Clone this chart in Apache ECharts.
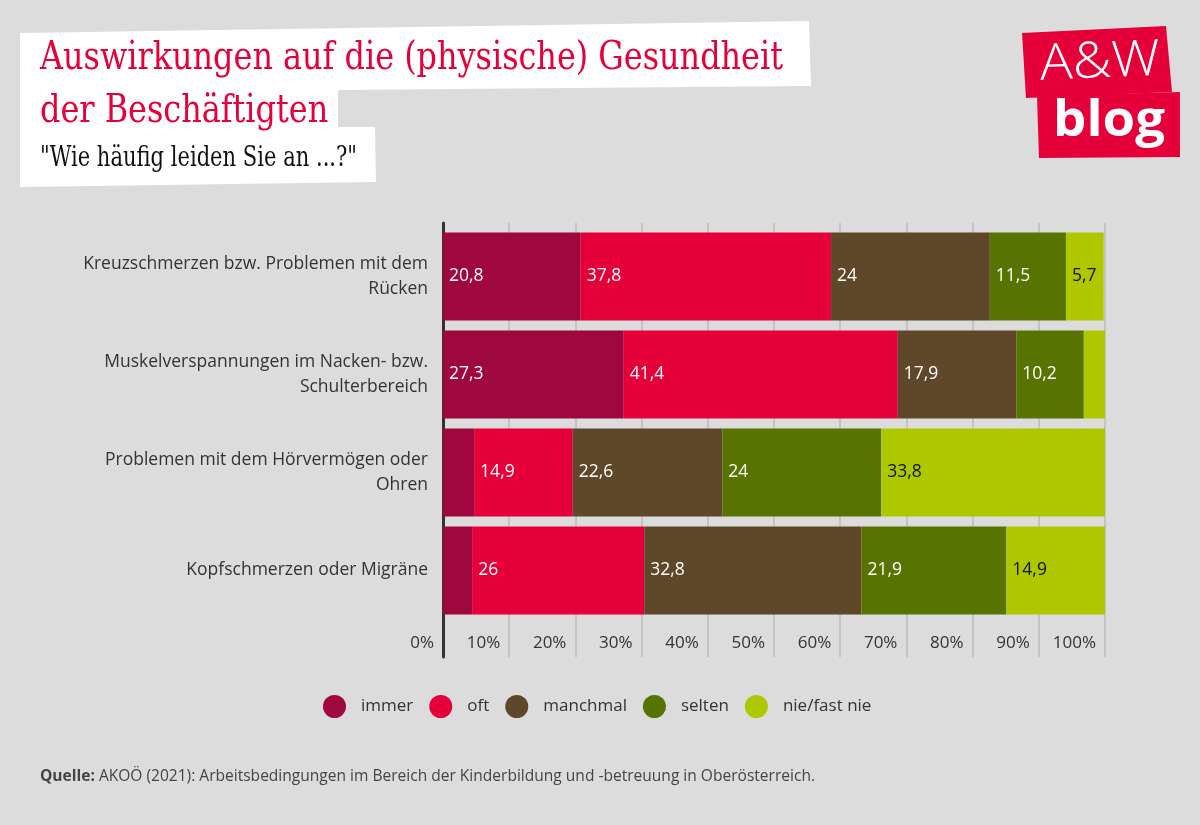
<!DOCTYPE html>
<html><head><meta charset="utf-8">
<script src="https://cdn.jsdelivr.net/npm/echarts@6/dist/echarts.min.js"></script>
<style>html,body{margin:0;padding:0;background:#dcdcdc}#c{width:1200px;height:825px}</style>
</head><body><div id="c"></div><script>
// ---- data ----
const categories = [
  'Kreuzschmerzen bzw. Problemen mit dem\nRücken',
  'Muskelverspannungen im Nacken- bzw.\nSchulterbereich',
  'Problemen mit dem Hörvermögen oder\nOhren',
  'Kopfschmerzen oder Migräne'
];
const seriesNames = ['immer', 'oft', 'manchmal', 'selten', 'nie/fast nie'];
const immer = [20.8, 27.3, 4.7, 4.4];
const oft = [37.8, 41.4, 14.9, 26];
const manchmal = [24, 17.9, 22.6, 32.8];
const selten = [11.5, 10.2, 24, 21.9];
const nieFastNie = [5.7, 3.2, 33.8, 14.9];
const xTickMax = 100, xTickStep = 10;

const titleLine1 = 'Auswirkungen auf die (physische) Gesundheit';
const titleLine2 = 'der Beschäftigten';
const subtitle = '"Wie häufig leiden Sie an ...?"';
const sourceBold = 'Quelle: ';
const sourceRest = 'AKOÖ (2021): Arbeitsbedingungen im Bereich der Kinderbildung und -betreuung in Oberösterreich.';

// ---- styles ----
const colors = ['#9f073f', '#e5003a', '#5f4729', '#587400', '#aec800'];
const labelColors = ['#fff', '#fff', '#fff', '#fff', '#111'];
const RED = '#e5003a';
const TITLE_FONT = '"DejaVu Serif Condensed", "DejaVu Serif", serif';
const SANS = '"Open Sans", "Noto Sans", sans-serif';

const mctx = document.createElement('canvas').getContext('2d');
function textW(font, t) { mctx.font = font; return mctx.measureText(t).width; }

const t1Font = '40px ' + TITLE_FONT;
const tScale = 743 / textW(t1Font, titleLine1);
const subFont = '27px ' + TITLE_FONT;
const subScale = 317 / textW(subFont, subtitle);
const srcW = textW('bold 16px ' + SANS, sourceBold) + textW('16px ' + SANS, sourceRest);
const srcScale = 775 / srcW;
const awScale = 120 / textW('300 50px ' + SANS, 'A&W');
const blogScale = 112 / textW('bold 50px ' + SANS, 'blog');

const valuesBySeries = [immer, oft, manchmal, selten, nieFastNie];

const chart = echarts.init(document.getElementById('c'), null, { renderer: 'canvas' });
chart.setOption({
  backgroundColor: '#dcdcdc',
  animation: false,
  color: colors,
  grid: [
    { left: 443, right: 95, top: 227.5, height: 392 },
    { left: 443, right: 95, top: 223, bottom: 168 }
  ],
  xAxis: [
    { gridIndex: 0, type: 'value', min: 0, max: xTickMax, show: false },
    { gridIndex: 1, type: 'value', min: 0, max: xTickMax, interval: xTickStep,
      axisLine: { show: false }, axisTick: { show: false },
      splitLine: { show: true, lineStyle: { color: '#c3c3c3', width: 2 } },
      axisLabel: { inside: true, align: 'right', padding: [0, 9, 0, 0], margin: 5,
        formatter: '{value}%', fontSize: 17, color: '#333', fontFamily: SANS } }
  ],
  yAxis: [
    { gridIndex: 0, type: 'category', inverse: true, data: categories,
      axisLine: { show: false }, axisTick: { show: false },
      axisLabel: { fontSize: 17.5, color: '#333', margin: 15, lineHeight: 25, fontFamily: SANS, align: 'right' } },
    { gridIndex: 1, type: 'value', min: 0, max: 1,
      axisLine: { show: true, lineStyle: { color: '#333', width: 3 } },
      axisTick: { show: false }, axisLabel: { show: false }, splitLine: { show: false } }
  ],
  legend: {
    left: 318, top: 690, icon: 'circle', itemWidth: 23, itemHeight: 23, itemGap: 16,
    data: seriesNames,
    textStyle: { fontSize: 17, color: '#333', fontFamily: SANS, padding: [0, 0, 0, 10] }
  },
  series: seriesNames.map((name, i) => ({
    name, type: 'bar', stack: 'total', xAxisIndex: 0, yAxisIndex: 0, barWidth: 88,
    data: valuesBySeries[i],
    itemStyle: { color: colors[i] },
    label: { show: true, position: 'insideLeft', distance: 6, fontSize: 17.5, fontFamily: SANS,
      color: labelColors[i],
      formatter: p => p.value >= 5 ? String(p.value).replace('.', ',') : '' }
  })),
  graphic: [
    { type: 'polygon', z: 1, shape: { points: [[20, 33], [809, 21], [811, 86], [338, 90], [338, 127], [375, 127], [376, 182], [20, 187]] },
      style: { fill: '#fff' } },
    { type: 'text', z: 2, x: 40, y: 59, scaleX: tScale,
      style: { text: titleLine1, font: t1Font, fill: RED, verticalAlign: 'middle' } },
    { type: 'text', z: 2, x: 40, y: 112, scaleX: tScale,
      style: { text: titleLine2, font: t1Font, fill: RED, verticalAlign: 'middle' } },
    { type: 'text', z: 2, x: 40, y: 159, scaleX: subScale,
      style: { text: subtitle, font: subFont, fill: '#111', verticalAlign: 'middle' } },
    { type: 'polygon', z: 1, shape: { points: [[1022, 33], [1166, 26], [1172, 92], [1026, 98]] }, style: { fill: RED } },
    { type: 'polygon', z: 1, shape: { points: [[1037, 96], [1180, 92], [1180, 157], [1039, 158]] }, style: { fill: RED } },
    { type: 'text', z: 2, x: 1100, y: 63, scaleX: awScale, rotation: 0.04,
      style: { text: 'A&W', font: '300 50px ' + SANS, fill: '#fff', align: 'center', verticalAlign: 'middle' } },
    { type: 'text', z: 2, x: 1109, y: 122, scaleX: blogScale,
      style: { text: 'blog', font: 'bold 50px ' + SANS, fill: '#fff', align: 'center', verticalAlign: 'middle' } },
    { type: 'text', z: 2, x: 40, y: 776, scaleX: srcScale,
      style: { text: '{b|' + sourceBold + '}' + sourceRest, font: '16px ' + SANS, fill: '#444', verticalAlign: 'middle',
        rich: { b: { fontWeight: 'bold', fontSize: 16, fontFamily: SANS, fill: '#444' } } } }
  ]
});
</script></body></html>
